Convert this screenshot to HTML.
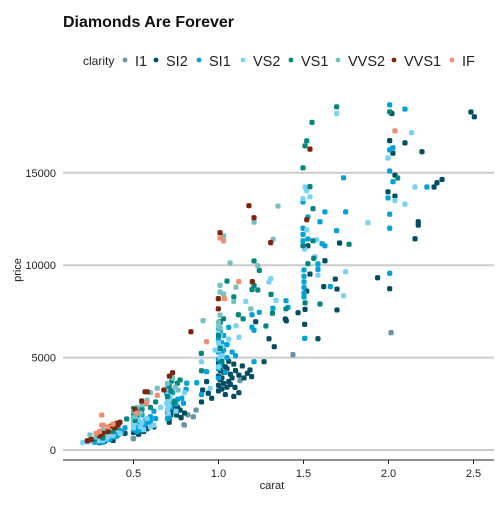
<!DOCTYPE html>
<html><head><meta charset="utf-8"><style>
body{margin:0;background:#fff;width:504px;height:504px;overflow:hidden}
svg text{font-family:"Liberation Sans",sans-serif}
</style></head><body>
<svg id="chart" width="504" height="504">
<text x="63" y="27" font-size="16" font-weight="bold" fill="#111">Diamonds Are Forever</text>
<g id="legend"><text x="83" y="65" font-size="12" fill="#222">clarity</text></g>
<g id="grid"></g>
<g id="axes"></g>
<g id="points"></g>
<text x="272" y="489" font-size="11" text-anchor="middle" fill="#222">carat</text>
<text transform="translate(21,270) rotate(-90)" font-size="11" text-anchor="middle" fill="#222">price</text>
</svg>
<script>
const clarities=["I1","SI2","SI1","VS2","VS1","VVS2","VVS1","IF"];
const colors=["#6794a7","#014d64","#01a2d9","#7ad2f6","#00887d","#76c0c1","#7c260b","#ee8f71"];
const xTicks=[0.5,1.0,1.5,2.0,2.5];
const xTickLabels=["0.5","1.0","1.5","2.0","2.5"];
const yTicks=[0,5000,10000,15000];
const yTickLabels=["0","5000","10000","15000"];
const I1=[[2.015,6350],[1.438,5160],[1.126,3750],[0.868,2160],[0.852,1800],[0.799,1350],[0.797,1370],[0.499,630],[0.499,610],[0.82,1900]];
const SI2=[[2.02,18210],[2.485,18290],[2.505,18030],[2.007,16740],[2.026,16060],[2.097,16620],[2.197,16140],[2.038,14870],[2.268,14230],[2.285,14460],[2.315,14640],[1.997,13970],[2.038,13740],[2.175,12350],[2.175,12170],[2.156,11430],[2.007,8730],[1.936,9320],
[1.712,11200],[1.526,11050],[1.626,10240],[1.687,9250],[1.538,9520],[1.619,8840],[1.697,8710],[1.519,8600],[1.509,7610],[1.697,7580],[1.468,7430],[1.507,6800],[1.585,6020],[1.393,7090],[1.399,6990],[1.297,6020],[1.328,5590],[1.219,6940],
[1.185,4330],[1.195,3970],[1.097,3390],[1.268,4780],[1.0,4700],[1.01,4300],[1.02,3900],[1.03,3600],[1.05,3400],[1.07,4100],[1.0,3200],[1.04,4500],[1.09,2900],[1.06,3700],[1.12,3100],[1.01,4900],[1.15,3900],
[1.0,4000],[1.01,3800],[1.02,4600],[1.03,4200],[1.05,4400],[1.06,4800],[1.08,3900],[1.1,4300],[1.0,3500],[1.02,3300],[1.04,3000],[1.07,3550],[1.12,4050],[1.14,4550],[1.17,4150],[1.09,4650],
[0.93,3700],[0.907,3250],[0.94,3070],[0.96,2800],[0.734,2380],[0.725,2160],[0.754,1890],[0.774,2160],[0.71,1700],[0.8,2000],[0.9,2600],[0.71,1500],[0.72,1900],[0.76,2300],[0.78,1750],[0.73,2650],
[0.52,1100],[0.55,1300],[0.6,1400],[0.5,950],[0.58,1150],[0.45,900],[0.4,760],[0.35,620],[0.31,560],[0.42,1000],[0.3,400],[0.72,2600],[0.53,850],[0.56,1000],[0.62,1250],[0.33,470],[0.38,520]];
const SI1=[[2.007,18680],[2.097,18450],[2.026,16360],[2.007,16240],[2.007,15100],[1.736,14730],[2.026,14520],[2.226,14230],[1.997,13640],[2.007,12760],[2.007,12000],[2.007,9560],
[1.497,13420],[1.626,12890],[1.748,12890],[1.526,12610],[1.497,12000],[1.597,12350],[1.695,11870],[1.497,11670],[1.497,11320],[1.526,11420],[1.609,11160],[1.626,11050],[1.585,10070],[1.585,9780],[1.503,9740],[1.503,9400],[1.503,9100],[1.503,8800],[1.503,8500],[1.503,8280],[1.658,8840],[1.397,8080],[1.409,7720],[1.32,7670],[1.507,6040],[1.24,7450],[1.197,7320],[1.06,6640],[1.197,6650],[1.209,6480],[1.209,4780],
[1.01,6900],[1.01,6400],[1.0,6000],[1.01,5600],[1.02,5200],[1.0,4900],[1.03,5400],[1.05,5000],[1.0,4400],[1.04,4200],[1.1,5100],[1.0,6600],[1.02,5800],[1.0,5300],[1.01,4600],[1.03,6200],[1.05,5700],[1.08,5300],[1.0,3900],
[0.872,3640],[0.93,4240],[0.809,3280],[0.813,3620],[0.784,2800],[0.794,2530],[0.695,3060],[0.715,2710],[0.72,2300],[0.7,2000],[0.75,2500],[0.71,1800],[0.9,3000],[0.7,2500],[0.71,2850],[0.7,3350],[0.73,3100],[0.76,2750],[0.7,1700],
[0.5,1500],[0.52,1700],[0.55,1900],[0.51,1300],[0.57,1600],[0.6,1800],[0.53,1200],[0.62,2100],[0.5,1100],[0.5,1700],[0.51,2000],[0.5,1350],[0.54,1450],[0.56,1300],[0.58,1450],[0.6,1550],[0.52,1000],[0.55,1100],[0.63,1700],
[0.3,600],[0.32,750],[0.35,850],[0.4,900],[0.42,1050],[0.31,480],[0.38,700],[0.33,540],[0.45,1200],[0.27,420],[0.3,450],[0.34,680],[0.36,560],[0.4,740],[0.41,820],[0.43,950],[0.29,520],[0.32,420]];
const VS2=[[1.695,18210],[2.136,17170],[1.997,15800],[2.156,14230],[2.038,13500],[2.097,13300],[1.879,12300],[1.509,14230],[1.519,14030],[1.497,13600],[1.538,13700],[1.519,11910],[1.578,11380],[1.507,10870],[1.568,10460],[1.748,9650],[1.585,9460],[1.736,8350],[1.338,8090],[1.307,9270],[1.297,9090],[1.16,8040],[1.103,6720],[0.9,4780],[0.95,3340],[0.66,2310],[0.715,2880],[0.695,2530],[0.705,1990],
[1.0,6700],[1.01,6200],[1.0,5800],[1.02,5100],[1.0,5400],[1.06,6000],[1.12,6100],[0.98,5400],[1.0,6300],[1.01,5000],[1.02,5600],[1.0,4500],
[0.7,3300],[0.72,2700],[0.7,2200],[0.71,3500],[0.75,2100],[0.8,3100],[0.7,2700],[0.71,2400],[0.7,3000],
[0.5,1400],[0.51,1800],[0.52,1600],[0.53,2000],[0.55,1500],[0.5,1200],[0.56,1100],[0.58,1700],[0.6,1250],[0.62,1350],[0.5,1600],[0.5,1900],[0.51,1450],[0.53,1750],[0.54,1250],
[0.201,400],[0.25,480],[0.3,700],[0.33,800],[0.36,950],[0.4,1100],[0.28,560],[0.3,500],[0.34,620],[0.38,780],[0.42,900],[0.31,620],[0.32,520],[0.35,700],[0.37,860],[0.23,430]];
const VS1=[[1.695,18570],[2.007,18300],[1.55,17730],[1.519,16730],[1.509,16460],[1.497,15270],[2.054,14720],[1.538,14250],[1.556,13060],[1.556,11320],[1.768,11130],[1.497,11050],[1.56,10370],[1.526,10080],[1.597,7900],[1.509,7960],[1.309,8420],[1.397,7640],[1.317,7400],[1.279,6710],
[1.209,10230],[1.24,9720],[1.05,9140],[1.209,8900],[1.231,8660],[1.197,8680],[1.09,8290],[1.117,7320],[1.145,7100],[1.009,6940],[1.03,7100],[0.899,5230],[0.9,4290],
[1.0,6200],[1.01,5500],[1.02,4800],
[0.725,3730],[0.758,3610],[0.774,3790],[0.7,2900],[0.72,3200],[0.74,2600],[0.71,3450],
[0.46,1680],[0.5,2000],[0.52,1900],[0.55,2200],[0.6,2300],[0.57,2500],[0.51,1600],[0.63,2600],[0.5,2250],[0.53,2100],
[0.3,900],[0.35,1100],[0.32,650],[0.4,1200],[0.38,1000],[0.27,560]];
const VVS2=[[1.35,13200],[1.209,12330],[1.03,11590],[1.321,11400],[1.068,10120],[1.231,9970],[1.009,8910],[1.103,8810],[1.009,8550],[1.03,8440],[1.09,8040],[1.19,7640],[1.009,7300],[0.909,7000],[1.0,6900],[1.01,6600],
[0.64,3340],[0.6,3100],[0.745,3400],[0.762,3250],[0.7,3600],[0.73,3900],
[0.5,2100],[0.52,2300],[0.54,2000],[0.55,2450],[0.51,1800],[0.58,2700],
[0.244,810],[0.32,1070],[0.3,850],[0.34,950],[0.28,700],[0.36,1200],[0.4,1300]];
const VVS1=[[1.538,16280],[1.519,12460],[1.179,13220],[1.209,12570],[1.009,11760],[1.307,11220],[1.199,9110],[0.999,8190],[0.999,7640],[0.838,6400],
[0.73,4180],[0.711,4000],[0.581,3150],[0.548,2650],[0.679,3250],[0.509,2200],[0.568,3150],
[0.401,1440],[0.228,500],[0.41,1350],[0.39,1200],[0.35,1000],[0.32,900],[0.3,760],[0.42,1500],[0.37,1300],[0.25,560]];
const IF=[[2.038,17270],[1.009,11470],[1.03,11320],[1.119,9110],[1.035,8190],[0.93,5860],[0.64,2960],[0.577,2540],[0.313,1890],[0.322,1350],[0.313,1350],[0.35,1250],[0.3,1000],[0.38,1400],[0.28,900],[0.52,2000]];
const series=[I1,SI2,SI1,VS2,VS1,VVS2,VVS1,IF];

const NS="http://www.w3.org/2000/svg";
function xs(c){return 48.5+c*170;}
function ys(p){return 450-p*92.4/5000;}
function mk(tag,attrs,parent){const e=document.createElementNS(NS,tag);for(const k in attrs)e.setAttribute(k,attrs[k]);parent.appendChild(e);return e;}
const grid=document.getElementById('grid'),axes=document.getElementById('axes'),pts=document.getElementById('points'),leg=document.getElementById('legend');
yTicks.forEach((t,i)=>{
  const l=mk('line',{x1:63,x2:494,y1:ys(t),y2:ys(t),stroke:'#cccccc','stroke-width':2},grid);
  
  
  const tx=mk('text',{x:56,y:ys(t)+4,'font-size':11,'text-anchor':'end',fill:'#222'},axes);
  tx.textContent=yTickLabels[i];
  
  
});
const ax=mk('line',{x1:63,x2:494,y1:460,y2:460,stroke:'#222','stroke-width':1},axes);


xTicks.forEach((t,i)=>{
  const tk=mk('line',{x1:xs(t),x2:xs(t),y1:460,y2:464,stroke:'#222'},axes);
  
  
  const tx=mk('text',{x:xs(t),y:477,'font-size':11,'text-anchor':'middle',fill:'#222'},axes);
  tx.textContent=xTickLabels[i];
  
  
});
series.forEach((s,k)=>{
  s.forEach(d=>{
    const c=mk('rect',{x:xs(d[0])-2.6,y:ys(d[1])-2.6,width:5.2,height:5.2,rx:1.8,fill:colors[k]},pts);
    
    
  });
});
const legDot=[125,156,199,243,291,338,394,452];
clarities.forEach((n,k)=>{
  const c=mk('circle',{cx:legDot[k],cy:60,r:2.4,fill:colors[k]},leg);
  
  
  const t=mk('text',{x:legDot[k]+10,y:66,'font-size':14.5,fill:'#222'},leg);
  t.textContent=n;
  
  
});
</script>
</body></html>
